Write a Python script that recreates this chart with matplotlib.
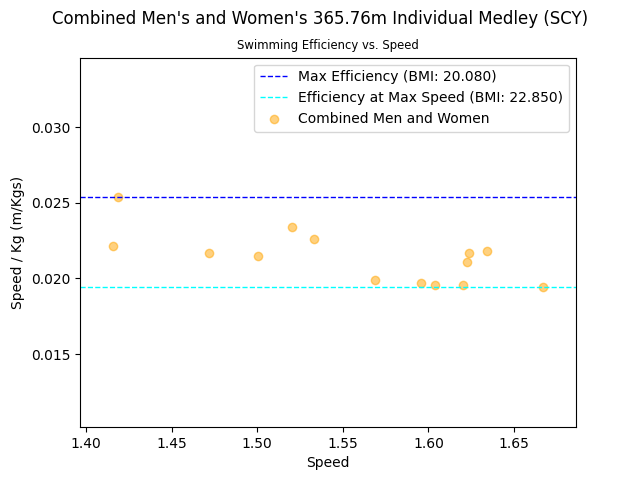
from matplotlib import pyplot as plt
import numpy as np

# speed (m/s) and speed per kg for each swimmer
speed = [1.4158, 1.4189, 1.4720, 1.5006, 1.5205, 1.5334, 1.5690,
         1.5959, 1.6040, 1.6204, 1.6225, 1.6239, 1.6344, 1.6669]
efficiency = [0.02214, 0.02539, 0.02168, 0.02148, 0.02340, 0.02261, 0.01991,
              0.01972, 0.01956, 0.01956, 0.02109, 0.02168, 0.02181, 0.01943]

max_eff = 0.02539
max_eff_bmi = 20.080
eff_at_max_speed = 0.01943
max_speed_bmi = 22.850


fig, ax = plt.subplots(figsize=(6.4, 4.8), dpi=100)

ax.axhline(max_eff, color='blue', linestyle='--', linewidth=1,
           label='Max Efficiency (BMI: %.3f)' % max_eff_bmi)
ax.axhline(eff_at_max_speed, color='cyan', linestyle='--', linewidth=1,
           label='Efficiency at Max Speed (BMI: %.3f)' % max_speed_bmi)
ax.scatter(speed, efficiency, color='orange', alpha=0.5,
           label='Combined Men and Women')

ax.set_xlim(1.3965, 1.6862)
ax.set_ylim(0.01016, 0.03461)

ax.set_xlabel('Speed')
ax.set_ylabel('Speed / Kg (m/Kgs)')
ax.set_title('Swimming Efficiency vs. Speed', fontsize='small')
fig.suptitle("Combined Men's and Women's 365.76m Individual Medley (SCY)")
ax.legend(loc='upper right')

plt.savefig('out.png')
